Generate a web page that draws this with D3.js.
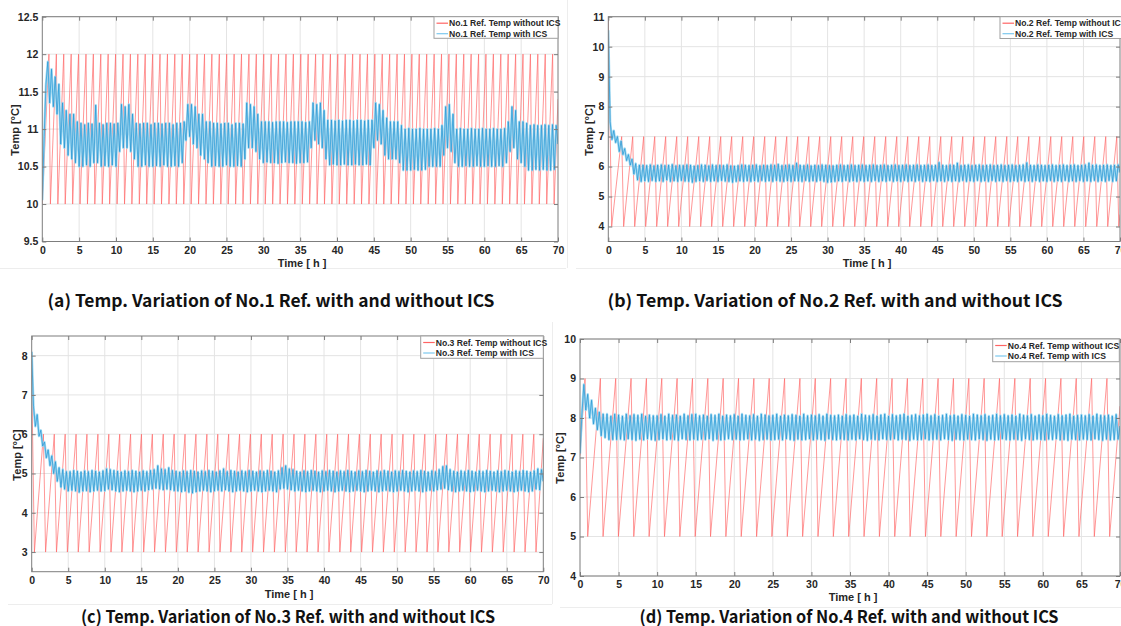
<!DOCTYPE html>
<html>
<head>
<meta charset="utf-8">
<script src="https://cdn.jsdelivr.net/npm/d3@7"></script>
<style>
  body { margin: 0; background: #fff; }
  svg { display: block; }
</style>
</head>
<body>
<svg id="chart" width="1121" height="626"></svg>
<script>
// ---------- shared axis ticks ----------
const timeTicks = [0, 5, 10, 15, 20, 25, 30, 35, 40, 45, 50, 55, 60, 65, 70];
const yTicksA = [9.5, 10, 10.5, 11, 11.5, 12, 12.5];
const yTicksB = [4, 5, 6, 7, 8, 9, 10, 11];
const yTicksC = [3, 4, 5, 6, 7, 8];
const yTicksD = [4, 5, 6, 7, 8, 9, 10];

// ---------- refrigerator temperature without ICS (on/off sawtooth) ----------
// times [h] of the upper and lower turning points, the two levels [°C], first and last sample
const redA_levels = [10, 12];
const redA_ends = [[0, 10.0], [70, 11.4]];
const redA_peaks = [0.90,1.91,2.91,3.92,4.92,5.93,6.93,7.94,8.94,9.95,10.96,11.96,12.97,13.97,14.98,15.98,16.99,17.99,19.00,20.00,21.01,22.02,23.02,24.03,25.03,26.04,27.04,28.05,29.05,30.06,31.07,32.07,33.08,34.08,35.09,36.09,37.10,38.10,39.11,40.11,41.12,42.13,43.13,44.14,45.14,46.15,47.15,48.16,49.16,50.17,51.17,52.18,53.19,54.19,55.20,56.20,57.21,58.21,59.22,60.22,61.23,62.24,63.24,64.25,65.25,66.26,67.26,68.27,69.27];
const redA_troughs = [1.10,2.11,3.11,4.12,5.12,6.13,7.13,8.14,9.14,10.15,11.16,12.16,13.17,14.17,15.18,16.18,17.19,18.19,19.20,20.20,21.21,22.22,23.22,24.23,25.23,26.24,27.24,28.25,29.25,30.26,31.27,32.27,33.28,34.28,35.29,36.29,37.30,38.30,39.31,40.31,41.32,42.33,43.33,44.34,45.34,46.35,47.35,48.36,49.36,50.37,51.37,52.38,53.39,54.39,55.40,56.40,57.41,58.41,59.42,60.42,61.43,62.44,63.44,64.45,65.45,66.46,67.46,68.47,69.47];

const redB_levels = [4, 7];
const redB_ends = [[0, 11.0], [70, 4.4]];
const redB_peaks = [1.83,3.34,4.84,6.35,7.85,9.36,10.86,12.37,13.87,15.38,16.88,18.39,19.89,21.40,22.90,24.41,25.91,27.42,28.92,30.43,31.93,33.44,34.94,36.45,37.95,39.46,40.96,42.47,43.97,45.48,46.98,48.49,49.99,51.50,53.00,54.51,56.01,57.52,59.02,60.53,62.03,63.54,65.04,66.55,68.05,69.56];
const redB_troughs = [0.46,2.10,3.61,5.11,6.62,8.12,9.63,11.13,12.64,14.14,15.65,17.15,18.66,20.16,21.67,23.17,24.68,26.18,27.69,29.19,30.70,32.20,33.71,35.21,36.72,38.22,39.73,41.23,42.74,44.24,45.75,47.25,48.76,50.26,51.77,53.27,54.78,56.28,57.79,59.29,60.80,62.30,63.81,65.31,66.82,68.32,69.83];

const redC_levels = [3, 6];
const redC_ends = [[0, 7.5], [70, 5.9]];
const redC_peaks = [1.60,3.09,4.58,6.07,7.56,9.06,10.55,12.04,13.53,15.02,16.51,18.00,19.49,20.98,22.47,23.97,25.46,26.95,28.44,29.93,31.42,32.91,34.40,35.89,37.38,38.88,40.37,41.86,43.35,44.84,46.33,47.82,49.31,50.80,52.29,53.79,55.28,56.77,58.26,59.75,61.24,62.73,64.22,65.71,67.20,68.70];
const redC_troughs = [0.37,1.90,3.39,4.88,6.37,7.86,9.36,10.85,12.34,13.83,15.32,16.81,18.30,19.79,21.28,22.77,24.27,25.76,27.25,28.74,30.23,31.72,33.21,34.70,36.19,37.68,39.18,40.67,42.16,43.65,45.14,46.63,48.12,49.61,51.10,52.59,54.09,55.58,57.07,58.56,60.05,61.54,63.03,64.52,66.01,67.50,69.00];

const redD_levels = [5, 9];
const redD_ends = [[0, 7.05], [70, 8.3]];
const redD_peaks = [0.65,2.64,4.63,6.62,8.61,10.60,12.59,14.58,16.57,18.56,20.55,22.54,24.53,26.52,28.51,30.50,32.49,34.48,36.47,38.46,40.45,42.44,44.43,46.42,48.41,50.40,52.39,54.38,56.37,58.36,60.35,62.34,64.33,66.32,68.31];
const redD_troughs = [1.00,2.99,4.98,6.97,8.96,10.95,12.94,14.93,16.92,18.91,20.90,22.89,24.88,26.87,28.86,30.85,32.84,34.83,36.82,38.81,40.80,42.79,44.78,46.77,48.76,50.75,52.74,54.73,56.72,58.71,60.70,62.69,64.68,66.67,68.66];

// ---------- refrigerator temperature with ICS, sampled every 0.25 h from 0 to 70 h ----------
const blueStepHours = 0.25;
const blueA = [
10.05,10.9,11.6,11.9,11.35,11.8,11.3,11.7,11.2,11.6,10.8,11.35,10.75,11.25,10.65,11.2,10.6,11.2,10.55,11.1,
10.5,11.08,10.5,11.06,10.52,11.08,10.5,11.07,10.55,11.32,10.55,11.08,10.5,11.06,10.51,11.08,10.5,11.08,10.52,11.07,
10.5,11.08,10.7,11.33,10.75,11.3,10.75,11.33,10.7,11.2,10.6,11.08,10.5,11.07,10.5,11.08,10.52,11.08,10.5,11.06,
10.5,11.08,10.51,11.08,10.5,11.07,10.52,11.08,10.5,11.08,10.5,11.06,10.51,11.08,10.5,11.08,10.55,11.1,10.85,11.33,
10.9,11.33,10.8,11.3,10.75,11.2,10.65,11.2,10.6,11.1,10.55,11.1,10.5,11.08,10.51,11.08,10.5,11.07,10.5,11.08,
10.52,11.08,10.5,11.06,10.5,11.08,10.51,11.08,10.5,11.07,10.6,11.35,10.75,11.33,10.75,11.3,10.7,11.2,10.6,11.1,
10.55,11.1,10.56,11.1,10.55,11.09,10.55,11.1,10.54,11.1,10.55,11.1,10.56,11.09,10.55,11.1,10.55,11.1,10.54,11.1,
10.55,11.1,10.55,11.09,10.56,11.1,10.75,11.35,10.85,11.33,10.8,11.35,10.75,11.25,10.6,11.12,10.52,11.12,10.53,11.11,
10.52,11.12,10.52,11.11,10.53,11.12,10.52,11.12,10.52,11.11,10.53,11.12,10.52,11.12,10.52,11.11,10.53,11.12,10.52,11.12,
10.75,11.35,10.85,11.33,10.8,11.25,10.65,11.15,10.6,11.1,10.6,11.1,10.6,11.1,10.55,11.05,10.45,11.0,10.45,11.01,
10.45,11.0,10.46,11.0,10.45,11.01,10.45,11.0,10.46,11.0,10.5,11.0,10.5,11.01,10.5,11.0,10.5,11.05,10.65,11.3,
10.75,11.33,10.7,11.2,10.55,11.0,10.5,11.01,10.5,11.0,10.51,11.0,10.5,11.01,10.5,11.0,10.51,11.0,10.5,11.01,
10.5,11.0,10.51,11.0,10.5,11.01,10.5,11.0,10.51,11.0,10.5,11.01,10.55,11.1,10.7,11.3,10.75,11.25,10.6,11.1,
10.55,11.1,10.5,11.08,10.45,11.05,10.45,11.06,10.46,11.05,10.45,11.05,10.46,11.06,10.45,11.05,10.45,11.06,10.46,11.05,
10.8];
const blueB = [
10.55,7.5,6.9,7.2,6.8,7.0,6.5,6.85,6.4,6.6,6.2,6.4,6.05,6.25,5.75,6.1,5.55,6.05,5.5,6.05,
5.52,6.04,5.5,6.06,5.53,6.03,5.5,6.05,5.52,6.06,5.5,6.04,5.55,6.05,5.5,6.07,5.52,6.03,5.5,6.05,
5.53,6.04,5.51,6.06,5.5,6.05,5.47,6.02,5.5,6.04,5.52,6.06,5.5,6.05,5.53,6.03,5.5,6.06,5.52,6.04,
5.5,6.05,5.53,6.04,5.51,6.06,5.5,6.03,5.47,6.02,5.5,6.04,5.52,6.06,5.5,6.05,5.52,6.04,5.5,6.05,
5.52,6.06,5.5,6.03,5.53,6.05,5.5,6.04,5.52,6.06,5.5,6.05,5.53,6.08,5.51,6.04,5.5,6.05,5.52,6.06,
5.5,6.04,5.52,6.12,5.51,6.05,5.5,6.04,5.53,6.06,5.5,6.03,5.52,6.05,5.5,6.04,5.53,6.06,5.5,6.05,
5.47,6.04,5.48,6.03,5.5,6.05,5.52,6.06,5.5,6.04,5.53,6.05,5.5,6.06,5.52,6.04,5.5,6.05,5.53,6.06,
5.5,6.04,5.52,6.05,5.5,6.06,5.53,6.04,5.5,6.05,5.52,6.06,5.5,6.04,5.53,6.05,5.5,6.06,5.52,6.04,
5.5,6.05,5.53,6.06,5.5,6.04,5.52,6.05,5.5,6.06,5.53,6.04,5.5,6.05,5.52,6.06,5.5,6.04,5.53,6.05,
5.5,6.14,5.52,6.05,5.5,6.04,5.53,6.06,5.5,6.05,5.52,6.12,5.5,6.04,5.53,6.05,5.5,6.06,5.52,6.04,
5.5,6.05,5.53,6.06,5.5,6.04,5.52,6.05,5.5,6.06,5.53,6.04,5.5,6.05,5.52,6.06,5.5,6.04,5.53,6.05,
5.5,6.06,5.52,6.04,5.5,6.05,5.53,6.06,5.5,6.13,5.52,6.05,5.5,6.04,5.53,6.06,5.5,6.05,5.52,6.04,
5.5,6.05,5.53,6.06,5.5,6.04,5.52,6.05,5.5,6.06,5.53,6.04,5.5,6.05,5.52,6.06,5.5,6.04,5.53,6.05,
5.5,6.06,5.52,6.12,5.5,6.05,5.53,6.06,5.5,6.04,5.52,6.05,5.5,6.06,5.53,6.04,5.5,6.05,5.52,6.06,
5.8];
const blueC = [
8.1,6.7,6.2,6.5,5.95,6.1,5.7,5.8,5.4,5.6,5.2,5.45,5.0,5.3,4.8,5.15,4.65,5.1,4.6,5.05,
4.55,5.05,4.57,5.08,4.55,5.06,4.52,5.04,4.55,5.07,4.56,5.05,4.53,5.08,4.55,5.06,4.57,5.04,4.55,5.07,
4.56,5.12,4.6,5.1,4.58,5.08,4.55,5.06,4.53,5.04,4.55,5.07,4.57,5.05,4.55,5.08,4.53,5.06,4.55,5.04,
4.57,5.07,4.55,5.05,4.58,5.08,4.6,5.1,4.62,5.2,4.6,5.12,4.58,5.1,4.6,5.15,4.58,5.08,4.56,5.06,
4.55,5.04,4.53,5.07,4.55,5.05,4.52,5.08,4.5,5.06,4.53,5.04,4.55,5.07,4.57,5.05,4.55,5.08,4.53,5.06,
4.55,5.04,4.57,5.07,4.55,5.12,4.58,5.05,4.55,5.08,4.53,5.06,4.55,5.04,4.57,5.07,4.55,5.05,4.53,5.08,
4.55,5.06,4.57,5.04,4.55,5.07,4.53,5.05,4.55,5.08,4.57,5.06,4.55,5.04,4.53,5.07,4.6,5.15,4.62,5.2,
4.6,5.12,4.58,5.1,4.55,5.06,4.57,5.04,4.55,5.07,4.53,5.05,4.55,5.08,4.57,5.06,4.55,5.04,4.53,5.07,
4.55,5.05,4.57,5.08,4.55,5.06,4.53,5.04,4.55,5.07,4.57,5.05,4.55,5.08,4.53,5.06,4.55,5.04,4.57,5.07,
4.55,5.05,4.53,5.08,4.55,5.06,4.57,5.04,4.55,5.07,4.53,5.05,4.55,5.08,4.57,5.06,4.55,5.04,4.53,5.07,
4.55,5.05,4.57,5.08,4.55,5.06,4.53,5.04,4.55,5.07,4.57,5.05,4.55,5.08,4.53,5.06,4.55,5.04,4.57,5.07,
4.55,5.05,4.58,5.1,4.6,5.18,4.62,5.2,4.58,5.1,4.55,5.06,4.53,5.04,4.55,5.07,4.57,5.05,4.55,5.08,
4.53,5.06,4.55,5.04,4.57,5.07,4.55,5.05,4.53,5.08,4.55,5.06,4.57,5.04,4.55,5.07,4.53,5.05,4.55,5.08,
4.57,5.06,4.55,5.04,4.53,5.07,4.55,5.05,4.57,5.08,4.55,5.06,4.53,5.04,4.55,5.07,4.6,5.12,4.58,5.1,
4.8];
const blueD = [
7.1,8.1,8.85,8.2,8.6,8.0,8.45,7.85,8.25,7.7,8.15,7.55,8.1,7.5,8.1,7.45,8.05,7.45,8.1,7.45,
8.08,7.46,8.05,7.44,8.1,7.47,8.06,7.45,8.09,7.43,8.07,7.46,8.1,7.44,8.05,7.47,8.08,7.45,8.06,7.43,
8.06,7.45,8.09,7.47,8.05,7.44,8.1,7.46,8.07,7.45,8.08,7.43,8.05,7.47,8.1,7.45,8.06,7.44,8.09,7.46,
8.1,7.44,8.06,7.46,8.08,7.45,8.05,7.47,8.09,7.43,8.07,7.46,8.1,7.44,8.05,7.45,8.08,7.47,8.06,7.45,
8.09,7.46,8.05,7.44,8.1,7.45,8.07,7.47,8.06,7.44,8.09,7.46,8.05,7.43,8.1,7.45,8.08,7.46,8.06,7.44,
8.07,7.45,8.1,7.46,8.05,7.44,8.08,7.47,8.06,7.45,8.09,7.43,8.07,7.46,8.05,7.44,8.1,7.45,8.06,7.47,
8.08,7.44,8.06,7.46,8.09,7.45,8.05,7.43,8.1,7.47,8.07,7.45,8.06,7.44,8.08,7.46,8.05,7.45,8.09,7.44,
8.06,7.46,8.08,7.44,8.05,7.47,8.1,7.45,8.07,7.43,8.06,7.46,8.09,7.45,8.05,7.44,8.08,7.47,8.1,7.45,
8.05,7.45,8.09,7.47,8.06,7.44,8.08,7.46,8.1,7.45,8.05,7.43,8.07,7.46,8.09,7.44,8.06,7.45,8.08,7.47,
8.1,7.44,8.06,7.45,8.09,7.46,8.05,7.44,8.07,7.47,8.1,7.45,8.06,7.43,8.08,7.46,8.05,7.45,8.09,7.44,
8.07,7.46,8.05,7.45,8.1,7.44,8.08,7.47,8.06,7.45,8.09,7.43,8.05,7.46,8.07,7.44,8.1,7.45,8.06,7.47,
8.09,7.45,8.06,7.44,8.08,7.46,8.05,7.45,8.1,7.43,8.07,7.47,8.06,7.45,8.09,7.44,8.05,7.46,8.08,7.45,
8.06,7.44,8.1,7.46,8.07,7.45,8.05,7.47,8.09,7.44,8.06,7.45,8.08,7.43,8.1,7.46,8.05,7.45,8.07,7.44,
8.08,7.46,8.06,7.45,8.09,7.44,8.05,7.47,8.1,7.45,8.07,7.43,8.06,7.46,8.08,7.44,8.05,7.45,8.09,7.46,
7.8];

const legendA = ["No.1 Ref. Temp without ICS", "No.1 Ref. Temp with ICS"];
const legendB = ["No.2 Ref. Temp without ICS", "No.2 Ref. Temp with ICS"];
const legendC = ["No.3 Ref. Temp without ICS", "No.3 Ref. Temp with ICS"];
const legendD = ["No.4 Ref. Temp without ICS", "No.4 Ref. Temp with ICS"];
const captions = [
  "(a) Temp. Variation of No.1 Ref. with and without ICS",
  "(b) Temp. Variation of No.2 Ref. with and without ICS",
  "(c) Temp. Variation of No.3 Ref. with and without ICS",
  "(d) Temp. Variation of No.4 Ref. with and without ICS"
];

// ---------- drawing ----------
const RED = "#ff6464";
const BLUE_DARK = "#1f94d4";
const BLUE_LIGHT = "#93d3f0";
const LEGEND_BLUE = "#7cc8ee";
const AXIS = "#7d7d7d";
const GRID = "#e4e4e4";
const LABEL = "#262626";
const FONT = "'Liberation Sans', Arial, sans-serif";

const svg = d3.select("#chart");
svg.append("rect").attr("width", 1121).attr("height", 626).attr("fill", "#fff");

// faint frames around the four sub-figures
const frames = [
  [567.5, 0, 567.5, 268], [0, 268.5, 566, 268.5], [576, 268.5, 1121, 268.5],
  [8, 604.5, 552, 604.5], [552.5, 322, 552.5, 604], [560, 607.5, 1121, 607.5]
];
svg.append("g").selectAll("line").data(frames).join("line")
  .attr("x1", d => d[0]).attr("y1", d => d[1]).attr("x2", d => d[2]).attr("y2", d => d[3])
  .attr("stroke", "#ededed").attr("stroke-width", 1);

function redPoints(levels, ends, peaks, troughs) {
  const pts = [ends[0]]
    .concat(peaks.map(t => [t, levels[1]]))
    .concat(troughs.map(t => [t, levels[0]]))
    .concat([ends[1]]);
  return pts.sort((a, b) => a[0] - b[0]);
}

let clipId = 0;
function drawPanel(p) {
  const g = svg.append("g");
  const x = d3.scaleLinear().domain([0, 70]).range([p.l, p.r]);
  const y = d3.scaleLinear().domain(p.yDomain).range([p.b, p.t]);

  // grid
  g.append("g").selectAll("line").data(timeTicks.slice(1, -1)).join("line")
    .attr("x1", d => x(d)).attr("x2", d => x(d)).attr("y1", p.t).attr("y2", p.b)
    .attr("stroke", GRID).attr("stroke-width", 1);
  g.append("g").selectAll("line").data(p.yTicks).join("line")
    .attr("x1", p.l).attr("x2", p.r).attr("y1", d => y(d)).attr("y2", d => y(d))
    .attr("stroke", GRID).attr("stroke-width", 1);

  const id = "clip" + (clipId++);
  g.append("clipPath").attr("id", id).append("rect")
    .attr("x", p.l).attr("y", p.t).attr("width", p.r - p.l).attr("height", p.b - p.t);
  const data = g.append("g").attr("clip-path", `url(#${id})`);

  const line = d3.line().x(d => x(d[0])).y(d => y(d[1]));
  data.append("path")
    .datum(redPoints(p.redLevels, p.redEnds, p.redPeaks, p.redTroughs))
    .attr("d", line).attr("fill", "none").attr("stroke", RED)
    .attr("stroke-width", 0.9).attr("stroke-opacity", 0.75);
  const bluePts = p.blue.map((v, i) => [i * blueStepHours, v]);
  // soft wide stroke underneath, thin darker trace on top
  data.append("path").datum(bluePts)
    .attr("d", line).attr("fill", "none").attr("stroke", BLUE_LIGHT)
    .attr("stroke-width", 2.4).attr("stroke-opacity", 0.85).attr("stroke-linejoin", "round");
  data.append("path").datum(bluePts)
    .attr("d", line).attr("fill", "none").attr("stroke", BLUE_DARK)
    .attr("stroke-width", 0.8).attr("stroke-opacity", 0.85);

  // axes on all four sides, ticks pointing inward
  const style = sel => {
    sel.select(".domain").remove();
    sel.selectAll(".tick line").attr("stroke", AXIS);
    sel.selectAll("text").attr("fill", LABEL).attr("font-family", FONT)
      .attr("font-weight", "bold").attr("font-size", "10.5px");
  };
  g.append("g").attr("transform", `translate(0,${p.b})`)
    .call(d3.axisBottom(x).tickValues(timeTicks).tickSize(-4).tickPadding(5).tickFormat(d3.format("d")))
    .call(style);
  g.append("g").attr("transform", `translate(0,${p.t})`)
    .call(d3.axisTop(x).tickValues(timeTicks).tickSize(-4).tickFormat(""))
    .call(style);
  g.append("g").attr("transform", `translate(${p.l},0)`)
    .call(d3.axisLeft(y).tickValues(p.yTicks).tickSize(-4).tickPadding(4).tickFormat(d => String(d)))
    .call(style);
  g.append("g").attr("transform", `translate(${p.r},0)`)
    .call(d3.axisRight(y).tickValues(p.yTicks).tickSize(-4).tickFormat(""))
    .call(style);
  g.append("rect").attr("x", p.l).attr("y", p.t).attr("width", p.r - p.l).attr("height", p.b - p.t)
    .attr("fill", "none").attr("stroke", AXIS).attr("stroke-width", 1);

  // axis titles
  g.append("text").attr("x", p.xLabel[0]).attr("y", p.xLabel[1])
    .attr("text-anchor", "middle").attr("font-family", FONT).attr("font-weight", "bold")
    .attr("font-size", "11px").attr("fill", LABEL).text("Time [ h ]");
  g.append("text").attr("transform", `translate(${p.yLabel[0]},${p.yLabel[1]}) rotate(-90)`)
    .attr("text-anchor", "middle").attr("font-family", FONT).attr("font-weight", "bold")
    .attr("font-size", "11px").attr("fill", LABEL).text("Temp [°C]");

  // legend
  const lg = g.append("g");
  lg.append("rect").attr("x", p.legend[0]).attr("y", p.legend[1])
    .attr("width", p.legend[2]).attr("height", p.legend[3])
    .attr("fill", "#fff").attr("stroke", "#a0a0a0").attr("stroke-width", 1);
  const colours = [RED, LEGEND_BLUE];
  p.legendNames.forEach((name, i) => {
    const yy = p.legend[1] + 6.5 + i * 10.5;
    lg.append("line").attr("x1", p.legend[0] + 2.5).attr("x2", p.legend[0] + 14)
      .attr("y1", yy).attr("y2", yy).attr("stroke", colours[i]).attr("stroke-width", 1.2);
    lg.append("text").attr("x", p.legend[0] + 15).attr("y", yy + 3)
      .attr("font-family", FONT).attr("font-weight", "bold").attr("font-size", "8.6px")
      .attr("fill", LABEL).text(name);
  });

  // sub-figure caption
  g.append("text").attr("x", p.caption[0]).attr("y", p.caption[1])
    .attr("text-anchor", "middle").attr("font-family", "'Noto Sans CJK KR', 'Noto Sans', sans-serif")
    .attr("font-weight", "bold").attr("font-size", "17px").attr("fill", "#111")
    .attr("textLength", p.caption[2]).attr("lengthAdjust", "spacingAndGlyphs")
    .text(p.captionText);
}

drawPanel({
  l: 42.3, r: 558, t: 16.7, b: 241.5, yDomain: [9.5, 12.5], yTicks: yTicksA,
  redLevels: redA_levels, redEnds: redA_ends, redPeaks: redA_peaks, redTroughs: redA_troughs,
  blue: blueA, legendNames: legendA, legend: [434, 16.7, 124, 21.6],
  xLabel: [302, 267], yLabel: [19, 130], caption: [271, 307, 447], captionText: captions[0]
});
drawPanel({
  l: 608.3, r: 1120, t: 16.7, b: 241.5, yDomain: [3.5, 11], yTicks: yTicksB,
  redLevels: redB_levels, redEnds: redB_ends, redPeaks: redB_peaks, redTroughs: redB_troughs,
  blue: blueB, legendNames: legendB, legend: [1000, 16.7, 130, 21.8],
  xLabel: [867, 267], yLabel: [593, 130], caption: [835, 307, 455], captionText: captions[1]
});
drawPanel({
  l: 31.7, r: 543.3, t: 336, b: 571.7, yDomain: [2.5, 8.5], yTicks: yTicksC,
  redLevels: redC_levels, redEnds: redC_ends, redPeaks: redC_peaks, redTroughs: redC_troughs,
  blue: blueC, legendNames: legendC, legend: [420.7, 336, 122.6, 22.3],
  xLabel: [289, 598], yLabel: [21, 455], caption: [288, 623, 414], captionText: captions[2]
});
drawPanel({
  l: 580, r: 1120, t: 339, b: 576, yDomain: [4, 10], yTicks: yTicksD,
  redLevels: redD_levels, redEnds: redD_ends, redPeaks: redD_peaks, redTroughs: redD_troughs,
  blue: blueD, legendNames: legendD, legend: [992.7, 339, 126.6, 22.7],
  xLabel: [853, 600.5], yLabel: [564, 458], caption: [849, 623, 419], captionText: captions[3]
});
</script>
</body>
</html>
